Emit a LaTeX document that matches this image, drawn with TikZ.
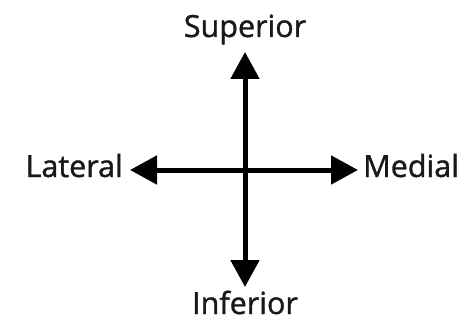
\documentclass[tikz,border=0pt]{standalone}
\usepackage{fontspec}
\setmainfont{Open Sans}
\newfontfamily\labelfont{Open Sans}[RawFeature={embolden=1.2}]
\usetikzlibrary{arrows.meta}

\begin{document}
\begin{tikzpicture}[x=1pt,y=-1pt,
    axis/.style={line width=5pt,black,
      {Triangle[length=27pt,width=28pt]}-{Triangle[length=27pt,width=28pt]}},
    dirlabel/.style={font=\labelfont\fontsize{30.5}{36}\selectfont,inner sep=0pt,text=black!90}]
    \useasboundingbox (0,0) rectangle (469,321);
    % Labels
    \node[dirlabel,anchor=base] (sup) at (245,37) {Superior};
    \node[dirlabel,anchor=base] (inf) at (245,314) {Inferior};
    \node[dirlabel,anchor=base east] (lat) at (123,177) {Lateral};
    \node[dirlabel,anchor=base west] (med) at (363,177) {Medial};
    % Arrow ends
    \coordinate (top) at (245,52);
    \coordinate (bottom) at (245,287);
    \coordinate (left) at (130,170);
    \coordinate (right) at (358,170);
    \draw[axis] (left) -- (right); % lateral-medial
    \draw[axis] (bottom) -- (top); % inferior-superior
\end{tikzpicture}
\end{document}
